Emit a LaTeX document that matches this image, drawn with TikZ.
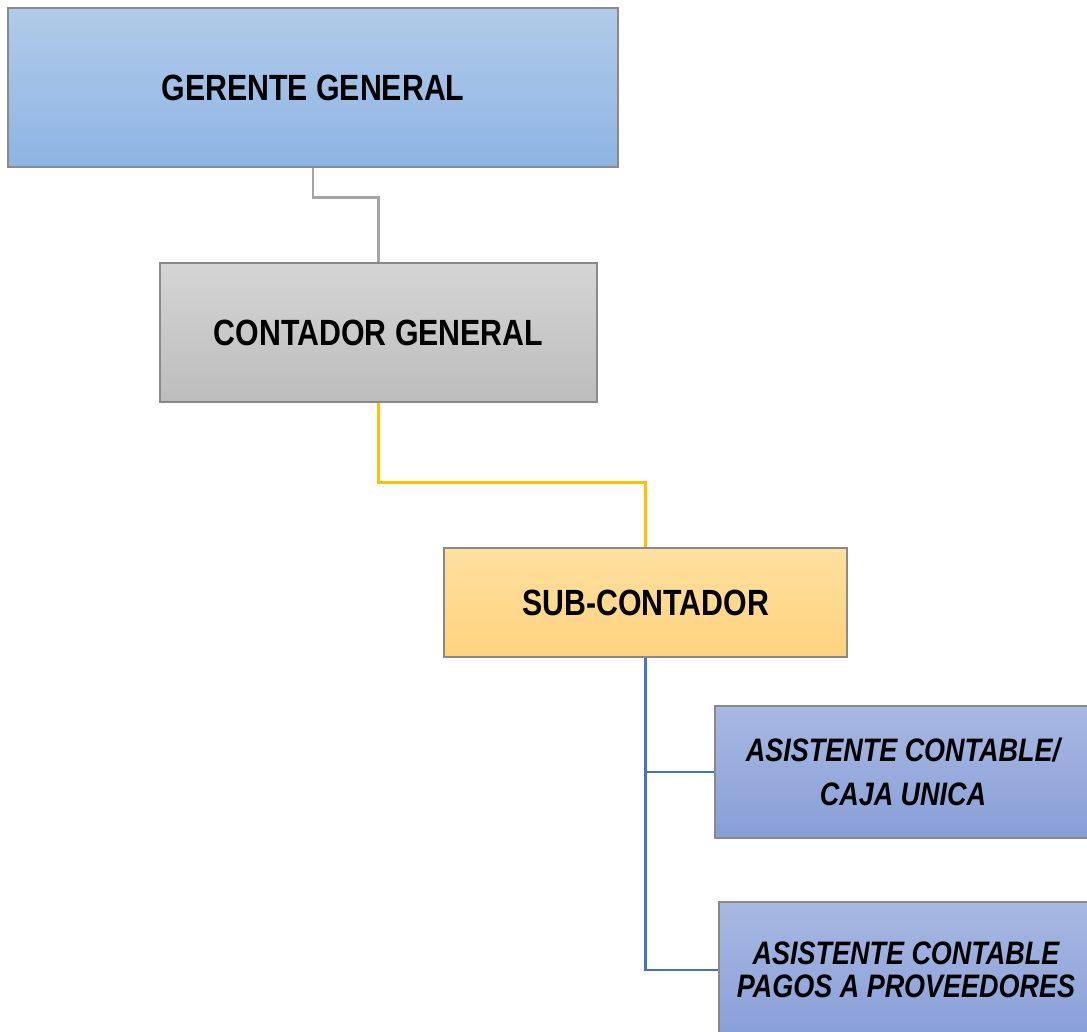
\documentclass[tikz,border=0pt]{standalone}
\usepackage{fontspec}
\newfontfamily\orgfont[FakeStretch=0.83]{Liberation Sans}
\begin{document}
\begin{tikzpicture}[x=1pt,y=-1pt,
  box/.style={rectangle,draw=edgeGrey,line width=1.1pt,inner sep=0pt,align=center,
    font=\orgfont\bfseries\fontsize{36.5}{40}\selectfont},
  bluebox/.style={box,top color=blueA,bottom color=blueB},
  greybox/.style={box,top color=greyA,bottom color=greyB},
  goldbox/.style={box,top color=goldA,bottom color=goldB},
  staffbox/.style={box,top color=staffA,bottom color=staffB,
    font=\orgfont\bfseries\itshape\fontsize{32.5}{44}\selectfont},
  link/.style={line width=2.2pt}]
\definecolor{edgeGrey}{HTML}{8A8A8A}
\definecolor{blueA}{HTML}{B1CBE9}
\definecolor{blueB}{HTML}{8EB4E3}
\definecolor{greyA}{HTML}{D5D5D5}
\definecolor{greyB}{HTML}{BDBDBD}
\definecolor{goldA}{HTML}{FFE09F}
\definecolor{goldB}{HTML}{FFD27E}
\definecolor{staffA}{HTML}{A8B8E2}
\definecolor{staffB}{HTML}{889FD7}
\definecolor{lineGrey}{HTML}{A5A5A5}
\definecolor{lineGold}{HTML}{FFC000}
\definecolor{lineBlue}{HTML}{4472C4}
\useasboundingbox (0,0) rectangle (1087,1032);
\clip (0,0) rectangle (1087,1032);
\fill[white] (0,0) rectangle (1087,1032);

\node[bluebox,minimum width=610pt,minimum height=159pt] (ger) at (313,87.5) {GERENTE GENERAL};
\node[greybox,minimum width=437pt,minimum height=139pt] (cont) at (378.5,332.5) {CONTADOR GENERAL};
\node[goldbox,minimum width=403pt,minimum height=109pt] (sub) at (645.5,602.5) {SUB-CONTADOR};
\node[staffbox,minimum width=376pt,minimum height=132pt] (caja) at (903,772) {ASISTENTE CONTABLE/\\CAJA UNICA};
\node[staffbox,minimum width=374pt,minimum height=136pt,
  font=\orgfont\bfseries\itshape\fontsize{32.5}{33}\selectfont] (pagos) at (906,970)
  {ASISTENTE CONTABLE\\PAGOS A PROVEEDORES};

\draw[link,lineGrey] (ger.south) -- ++(0,30) -| (cont.north);
\draw[link,lineGold] (cont.south) -- ++(0,80) -| (sub.north);
\draw[link,lineBlue] (sub.south) |- (caja.west);
\draw[link,lineBlue] (sub.south) |- (pagos.west);
\end{tikzpicture}
\end{document}
